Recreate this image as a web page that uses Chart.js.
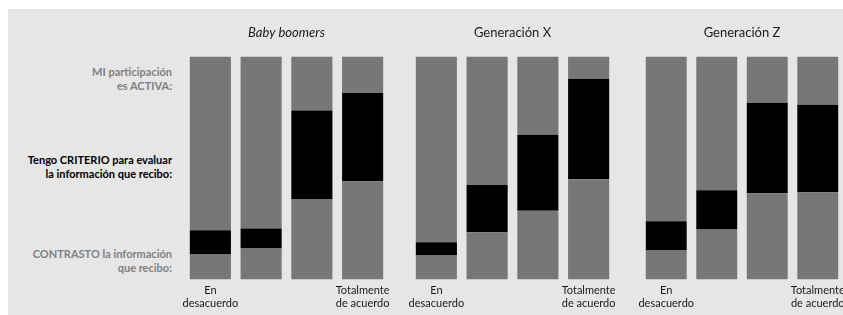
<!DOCTYPE html>
<html>
<head>
<meta charset="utf-8">
<script src="https://cdn.jsdelivr.net/npm/chart.js"></script>
<style>
  body { margin: 0; width: 843px; height: 315px; overflow: hidden; background: #fff; position: relative; font-family: Lato, sans-serif; }
  #panel { position: absolute; left: 8px; top: 9px; width: 835px; height: 306px; background: #e6e6e6; }
  canvas { position: absolute; top: 15px; }
  .lbl { position: absolute; right: 671px; text-align: right; font-weight: bold; font-size: 11px; line-height: 14px; white-space: nowrap; }
  .gray { color: #808080; }
</style>
</head>
<body>
<div id="panel"></div>
<div class="lbl gray" style="top:65px">MI participación<br>es ACTIVA:</div>
<div class="lbl" style="top:153px;color:#000">Tengo CRITERIO para evaluar<br>la información que recibo:</div>
<div class="lbl gray" style="top:247px">CONTRASTO la información<br>que recibo:</div>
<canvas id="g0" width="223" height="299" style="left:175px"></canvas>
<canvas id="g1" width="223" height="299" style="left:401px"></canvas>
<canvas id="g2" width="222" height="299" style="left:631px"></canvas>
<script>
// groups and answer scale
var groups = ["Baby boomers", "Generación X", "Generación Z"];
var tickLabels = [["En", "desacuerdo"], "", "", ["Totalmente", "de acuerdo"]];

// % per answer, one row per group
var contrasto = [
  [11.3, 13.9, 35.9, 44.1],
  [10.8, 21.2, 30.9, 45.0],
  [13.1, 22.5, 38.7, 39.2]
];
var criterio = [
  [10.8, 9.0, 39.9, 39.6],
  [5.9, 21.2, 34.1, 45.0],
  [13.1, 17.6, 40.5, 39.2]
];
var activa = [
  [77.9, 77.1, 24.2, 16.3],
  [83.3, 57.6, 35.0, 10.0],
  [73.8, 59.9, 20.8, 21.6]
];

var font = "Lato, sans-serif";

groups.forEach(function (g, i) {
  new Chart(document.getElementById("g" + i), {
    type: 'bar',
    data: {
      labels: tickLabels,
      datasets: [
        { label: "CONTRASTO la información que recibo", data: contrasto[i], backgroundColor: '#777777' },
        { label: "Tengo CRITERIO para evaluar la información que recibo", data: criterio[i], backgroundColor: '#000000' },
        { label: "MI participación es ACTIVA", data: activa[i], backgroundColor: '#777777' }
      ]
    },
    options: {
      responsive: false,
      animation: false,
      layout: { padding: { left: 10, right: 10, top: 0, bottom: 0 } },
      datasets: { bar: { barPercentage: 1, categoryPercentage: 0.81 } },
      plugins: {
        legend: { display: false },
        tooltip: { enabled: false },
        title: {
          display: true,
          text: g,
          color: '#1a1a1a',
          font: { family: font, size: 13, weight: 'normal', style: i === 0 ? 'italic' : 'normal' },
          padding: { top: 10, bottom: 16 }
        }
      },
      scales: {
        x: {
          stacked: true,
          grid: { display: false, drawTicks: false },
          border: { display: false },
          ticks: { autoSkip: false, maxRotation: 0, color: '#1a1a1a', padding: 4, font: { family: font, size: 11 } },
          afterFit: function (s) { s.paddingLeft = 0; s.paddingRight = 0; }
        },
        y: { stacked: true, display: false, min: 0, max: 100 }
      }
    }
  });
});
</script>
</body>
</html>
